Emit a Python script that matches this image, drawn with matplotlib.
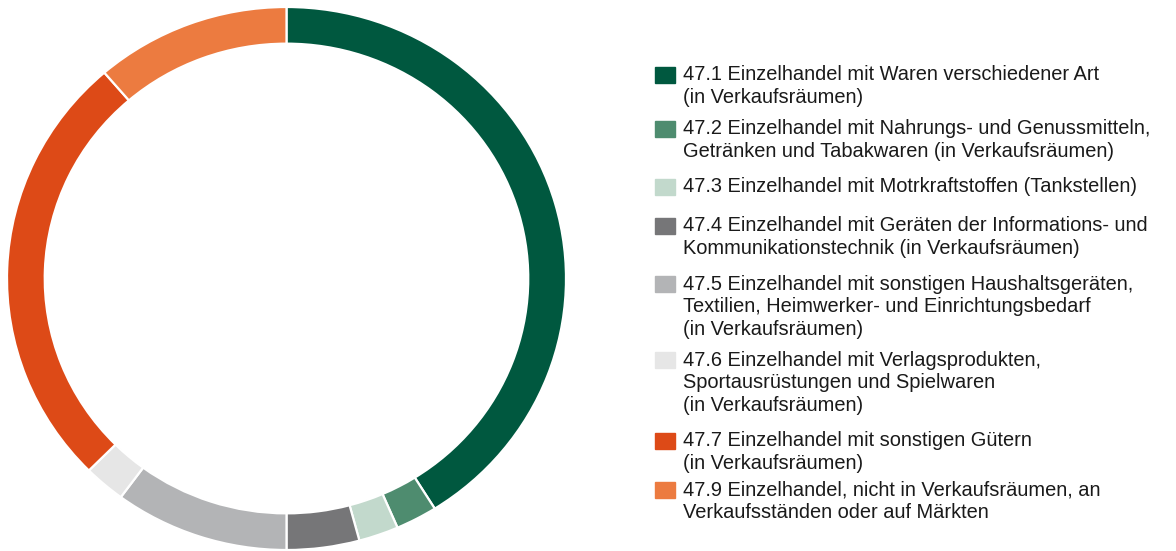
import matplotlib.pyplot as plt

# Anteile (geschätzt aus der Grafik, in %)
codes = ["47.1", "47.2", "47.3", "47.4", "47.5", "47.6", "47.7", "47.9"]
anteile = [41.1, 2.4, 2.3, 4.2, 10.1, 2.4, 26.2, 11.3]
farben = ["#00583f", "#4e8c6f", "#c2d9cc", "#767678", "#b3b4b6",
          "#e6e6e6", "#dd4a17", "#ec7b40"]
beschriftungen = [
    ["47.1 Einzelhandel mit Waren verschiedener Art", "(in Verkaufsräumen)"],
    ["47.2 Einzelhandel mit Nahrungs- und Genussmitteln,",
     "Getränken und Tabakwaren (in Verkaufsräumen)"],
    ["47.3 Einzelhandel mit Motrkraftstoffen (Tankstellen)"],
    ["47.4 Einzelhandel mit Geräten der Informations- und",
     "Kommunikationstechnik (in Verkaufsräumen)"],
    ["47.5 Einzelhandel mit sonstigen Haushaltsgeräten,",
     "Textilien, Heimwerker- und Einrichtungsbedarf", "(in Verkaufsräumen)"],
    ["47.6 Einzelhandel mit Verlagsprodukten,",
     "Sportausrüstungen und Spielwaren", "(in Verkaufsräumen)"],
    ["47.7 Einzelhandel mit sonstigen Gütern", "(in Verkaufsräumen)"],
    ["47.9 Einzelhandel, nicht in Verkaufsräumen, an",
     "Verkaufsständen oder auf Märkten"],
]

W, H = 1176, 551
fig = plt.figure(figsize=(W / 100, H / 100), dpi=100)
plt.rcParams["font.family"] = ["Liberation Sans", "DejaVu Sans"]

# Ring
ax = fig.add_axes([7 / W, 1 - 550 / H, 559 / W, 543 / H])
ax.pie(anteile, colors=farben, startangle=90, counterclock=False, radius=1,
       wedgeprops=dict(width=0.135, edgecolor="white", linewidth=1.6))
ax.set_aspect("auto")
ax.set_xlim(-1, 1)
ax.set_ylim(-1, 1)
ax.axis("off")

# Legende
erste_zeile = [75, 129, 187, 226, 284, 360, 441, 490]
zeilenabstand = 22.8
for farbe, zeilen, y0 in zip(farben, beschriftungen, erste_zeile):
    fig.patches.append(plt.Rectangle((655 / W, 1 - (y0 + 8) / H), 20 / W, 16 / H,
                                     transform=fig.transFigure, color=farbe))
    for i, z in enumerate(zeilen):
        fig.text(683 / W, 1 - (y0 + i * zeilenabstand) / H, z,
                 fontsize=14.4, va="center", ha="left", color="#1a1a1a")

fig.savefig("out.png", dpi=100)
